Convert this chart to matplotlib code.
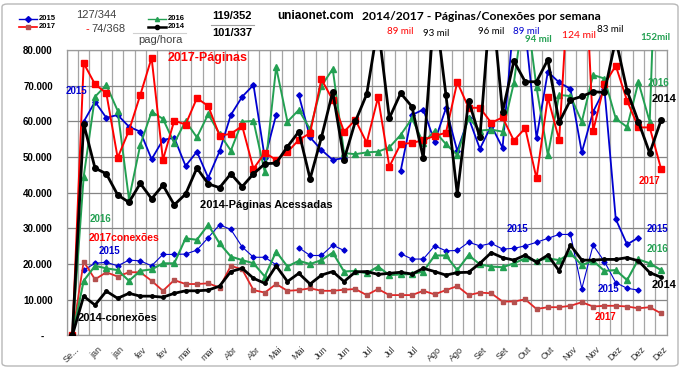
import numpy as np
import matplotlib
matplotlib.use("Agg")
import matplotlib.pyplot as plt
from matplotlib.lines import Line2D
from matplotlib.patches import FancyBboxPatch
from matplotlib.transforms import ScaledTranslation

nan = np.nan

# weekly values, week 0 = start of September, 52 weeks after
pag_2017 = [0, 76300, 70400, 67900, 49800, 57400, 67400, 77800, 49200, 60200,
            59100, 66500, 64300, 56000, 56500, 58700, 46700, 51200, 49200, 51400,
            54800, 56700, 71800, 66000, 57100, 60400, 54000, 66700, 47300, 53700,
            53900, 54800, 55900, 56800, 71000, 63800, 63800, 59600, 61100, 54600,
            58100, 44000, 66700, 54800, 108000, 124000, 57300, 70400, 75600, 65800,
            58300, 58300, 46700]
pag_2014 = [0, 59300, 46900, 45300, 39400, 37300, 42600, 38300, 42100, 36600,
            39600, 46900, 42500, 41400, 45300, 41700, 45300, 48100, 48300, 52900,
            57100, 43900, 55500, 68300, 49300, 60000, 67600, 87000, 60900, 67900,
            64100, 49700, 93000, 67400, 39600, 65800, 55500, 96000, 62700, 76900,
            71100, 71100, 77300, 59700, 66000, 67000, 68300, 68100, 83000, 68600,
            59900, 51100, 60300]
pag_2016 = [0, 44500, 66900, 70200, 63000, 38200, 53400, 62700, 60700, 53900,
            60100, 55500, 62000, 56500, 51800, 59900, 60100, 45700, 75200, 59900,
            63200, 57800, 69900, 74700, 51100, 50800, 51300, 51500, 52700, 56200,
            60800, 54000, 57300, 53600, 50600, 61000, 57400, 57700, 57100, 70800,
            94000, 69600, 50500, 67400, 67100, 59900, 73000, 72000, 60800, 58400,
            71000, 59900, 152000]
pag_2015 = [nan, 59900, 65500, 61000, 61800, 58500, 57100, 49400, 54800, 55400,
            47500, 51500, 44200, 51600, 61800, 66900, 70200, 49700, 61800, nan,
            67400, 55500, 52000, 49200, 49700, nan, nan, nan, nan, 46100,
            61800, 63300, 54300, 63700, 51700, 61000, 52300, 58800, 52600, 89000,
            86000, 55300, 73900, 70900, 69100, 51300, 62700, 69000, 32600, 25500,
            27400, nan, nan]

con_2014 = [0, 11000, 8500, 12400, 10400, 11800, 11000, 11000, 10700, 11800,
            12500, 12500, 12700, 13800, 17900, 18800, 16000, 14600, 19500, 15100,
            17400, 14400, 16900, 17900, 15100, 17800, 17900, 17100, 17400, 17700,
            17200, 18800, 17900, 16900, 17600, 17700, 20200, 23200, 21800, 21100,
            22500, 20500, 22500, 18100, 25300, 21100, 21100, 21300, 21300, 21800,
            20900, 17600, 16300]
con_2016 = [0, 15300, 19500, 18800, 18300, 15300, 18100, 18500, 20200, 20200,
            27200, 26800, 31000, 25800, 22100, 21100, 20200, 16500, 23500, 19300,
            20900, 20000, 21100, 23200, 17900, 18100, 17400, 19300, 16900, 17100,
            17200, 17900, 22400, 22400, 18300, 22500, 19900, 19300, 19100, 20200,
            21600, 20900, 21600, 21100, 23000, 19700, 20900, 18100, 18300, 15500,
            21300, 20200, 18300]
con_2017 = [0, 20700, 15700, 17700, 16500, 17700, 17700, 15300, 12500, 15500,
            14400, 14400, 14600, 13400, 19500, 18500, 12700, 12000, 14400, 12500,
            12700, 13200, 12500, 12500, 12800, 13000, 11300, 13000, 11300, 11300,
            11300, 12500, 11500, 12700, 13800, 11300, 12000, 11800, 9500, 9500,
            10100, 7400, 7900, 7900, 8300, 9300, 8100, 8300, 8300, 8100,
            7600, 7900, 6200]
con_2015 = [nan, 18300, 20200, 20500, 19500, 21100, 20900, 19500, 22700, 22700,
            22800, 23900, 27400, 31000, 29700, 24800, 21900, 21900, 19800, nan,
            24600, 22400, 22400, 25300, 23800, nan, nan, nan, nan, 22900,
            21400, 21400, 25100, 23700, 23800, 26100, 25100, 25800, 24200, 24400,
            25100, 26100, 27200, 28300, 28300, 13100, 25300, 20700, 14800, 13200,
            12700, nan, nan]

# one label every second week
week_labels = ["Se...", "jan", "jan", "fev", "fev", "mar", "mar", "Abr", "Abr",
               "Mai", "Mai", "Jun", "Jun", "Jul", "Jul", "Jul", "Ago", "Ago",
               "Set", "Set", "Out", "Out", "Nov", "Nov", "Dez", "Dez", "Dez"]
y_ticks = [0, 10000, 20000, 30000, 40000, 50000, 60000, 70000, 80000]
y_labels = ["-   ", "10.000", "20.000", "30.000", "40.000", "50.000",
            "60.000", "70.000", "80.000"]

RED = "#FF0000"
RED2 = "#E32626"
BROWN = "#B5504E"
GREEN = "#23A052"
BLUE = "#0000D0"
ARIAL = "Liberation Sans"
CAL = "Lato"

W, H = 684, 369
fig = plt.figure(figsize=(W / 100, H / 100), dpi=100)
ax = fig.add_axes([66.7 / W, 1 - 335.4 / H, 600 / W, 285.4 / H])

x = np.arange(len(pag_2014))

# connections
ax.plot(x, con_2015, color=BLUE, lw=0.8, marker="D", ms=2.6, zorder=3)
ax.plot(x, con_2017, color=RED2, lw=1.3, marker="s", ms=3, mfc=BROWN, mec=BROWN, zorder=3)
ax.plot(x, con_2016, color=GREEN, lw=1.5, marker="^", ms=4, zorder=3)
ax.plot(x, con_2014, color="black", lw=2.0, marker="o", ms=2.5, zorder=4)

# pages
ax.plot(x, pag_2015, color=BLUE, lw=1.3, marker="D", ms=2.8, zorder=3)
ax.plot(x, pag_2016, color=GREEN, lw=1.4, marker="^", ms=4.2, zorder=3)
ax.plot(x, pag_2017, color=RED, lw=1.4, marker="s", ms=4.2, zorder=3)
ax.plot(x, pag_2014, color="black", lw=2.0, marker="o", ms=4, zorder=4)

ax.set_xlim(-0.5, len(x) - 0.5)
ax.set_ylim(0, 80000)
ax.set_yticks(y_ticks)
ax.set_yticklabels(y_labels, fontsize=7, fontweight="bold", family=ARIAL)
ax.set_xticks(x[::2])
ax.set_xticklabels(week_labels, fontsize=6.5, family=ARIAL, color="#333333",
                   rotation=45, ha="right", va="top", rotation_mode="anchor")
ax.set_xticks(np.arange(-0.5, len(x), 1), minor=True)
ax.tick_params(axis="y", length=0, pad=10)
ax.tick_params(axis="x", which="both", length=0, pad=7)
for lbl in ax.get_xticklabels():
    lbl.set_transform(lbl.get_transform() + ScaledTranslation(0.02, 0, fig.dpi_scale_trans))

ax.grid(True, which="minor", axis="x", color="#A6A6A6", lw=0.9)
ax.grid(True, which="major", axis="y", color="#858585", lw=0.9)
ax.set_axisbelow(True)
for s in ax.spines.values():
    s.set_color("#9A9A9A")
    s.set_linewidth(0.9)

# labels inside the plot (pixel positions of the reference)
def ptxt(px, py, s, color, size=8, weight="bold", family=ARIAL, ha="left"):
    fig.text(px / W, 1 - py / H, s, color=color, fontsize=size, fontweight=weight,
             family=family, ha=ha, va="center")

ptxt(168, 58, "2017-Páginas", RED, 9)
ptxt(66, 91, "2015", BLUE, 7)
ptxt(200, 205, "2014-Páginas Acessadas", "black", 8)
ptxt(90, 219, "2016", GREEN, 7)
ptxt(89, 238, "2017conexões", RED, 7.5)
ptxt(99, 251, "2015", BLUE, 7)
ptxt(78, 318, "2014-conexões", "black", 8)
ptxt(648, 83, "2016", GREEN, 7)
ptxt(652, 99, "2014", "black", 8)
ptxt(639, 181, "2017", RED, 7)
ptxt(507, 229, "2015", BLUE, 7)
ptxt(647, 229, "2015", BLUE, 7)
ptxt(647, 249, "2016", GREEN, 7)
ptxt(598, 289, "2015", BLUE, 7)
ptxt(652, 285, "2014", "black", 8)
ptxt(595, 317, "2017", RED, 7)

# peaks that leave the plot
ptxt(387, 32, "89 mil", RED, 7, "normal", CAL)
ptxt(423, 33, "93 mil", "black", 7, "normal", CAL)
ptxt(478, 31, "96 mil", "black", 7, "normal", CAL)
ptxt(513, 31, "89 mil", BLUE, 7, "normal", CAL)
ptxt(525, 40, "94 mil", GREEN, 7, "bold", CAL)
ptxt(562, 35, "124 mil", RED, 7.5, "normal", CAL)
ptxt(597, 30, "83 mil", "black", 7, "normal", CAL)
ptxt(640, 37, "152mil", GREEN, 7, "bold", CAL)

# title and header numbers
ptxt(277, 16, "uniaonet.com", "black", 8.5)
ptxt(362, 16, "2014/2017 - Páginas/Conexões por semana", "black", 8.7, "bold", CAL)
ptxt(76, 15, "127/344", "#404040", 8, "normal")
ptxt(85, 29, "-", RED, 8, "normal")
ptxt(91, 29, "74/368", "#404040", 8, "normal")
ptxt(138, 40, "pag/hora", "#404040", 8, "normal")
ptxt(212, 16, "119/352", "black", 8)
ptxt(212, 33, "101/337", "black", 8)
fig.add_artist(Line2D([211 / W, 254 / W], [1 - 25 / H, 1 - 25 / H], color="#A0A0A0", lw=0.8))
fig.add_artist(Line2D([133 / W, 186 / W], [1 - 33 / H, 1 - 33 / H], color="#D0D0D0", lw=0.8))

# small legend in the corner
legend_items = [(19, 19, BLUE, "D", BLUE, "2015", 1.0), (19, 27, RED, "s", BROWN, "2017", 1.2),
                (148, 19, GREEN, "^", GREEN, "2016", 1.0), (148, 27, "black", "o", "black", "2014", 1.8)]
for lx, ly, c, m, mc, name, lw in legend_items:
    fig.add_artist(Line2D([lx / W, (lx + 18) / W], [1 - ly / H, 1 - ly / H], color=c, lw=lw))
    fig.add_artist(Line2D([(lx + 9) / W], [1 - ly / H], color=mc, marker=m, ms=3, lw=0))
    ptxt(lx + 20, ly, name, "black", 5.5)

fig.add_artist(FancyBboxPatch((2 / W, 3 / H), 676 / W, 362 / H,
                              boxstyle="round,pad=0,rounding_size=0.008",
                              transform=fig.transFigure, fill=False, ec="#B8B8B8", lw=1))

fig.savefig("out.png", dpi=100)
